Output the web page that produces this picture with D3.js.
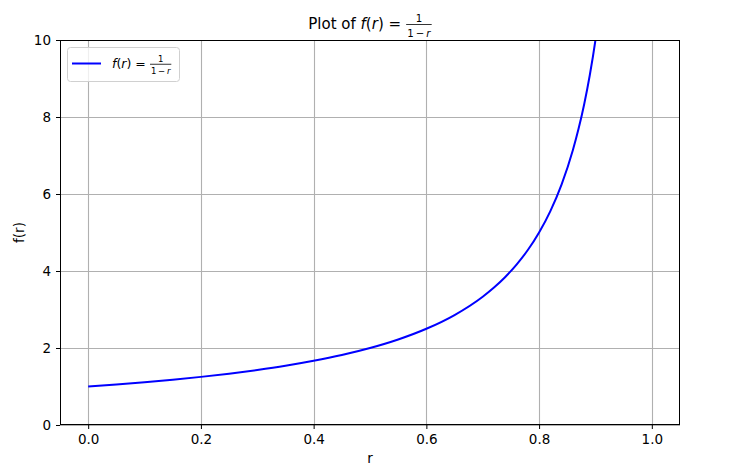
<!DOCTYPE html>
<html><head><meta charset="utf-8">
<script src="https://cdn.jsdelivr.net/npm/d3@7"></script>
<style>body{margin:0;background:#fff}svg{display:block;font-family:"DejaVu Sans",sans-serif}</style>
</head><body><svg id="c" width="746" height="469"></svg>
<script>
const rValues = [0, 0.05, 0.1, 0.15, 0.2, 0.25, 0.3, 0.35, 0.4, 0.45, 0.5, 0.55, 0.6, 0.65, 0.7, 0.72, 0.74, 0.76, 0.78, 0.8, 0.82, 0.84, 0.86, 0.87, 0.88, 0.89, 0.9, 0.91];
const fValues = [1.0, 1.053, 1.111, 1.176, 1.25, 1.333, 1.429, 1.538, 1.667, 1.818, 2.0, 2.222, 2.5, 2.857, 3.333, 3.571, 3.846, 4.167, 4.545, 5.0, 5.556, 6.25, 7.143, 7.692, 8.333, 9.091, 10.0, 11.11];
const xTicks = [0.0, 0.2, 0.4, 0.6, 0.8, 1.0];
const yTicks = [0, 2, 4, 6, 8, 10];

const svg = d3.select("#c");
const L = 60, R = 680, T = 40, B = 425;
const x = d3.scaleLinear().domain([-0.05, 1.05]).range([L, R]);
const y = d3.scaleLinear().domain([0, 10]).range([B, T]);

// grid
const g = svg.append("g");
g.selectAll(".gx").data(xTicks).enter().append("line")
  .attr("x1", d => Math.round(x(d)) + 0.5).attr("x2", d => Math.round(x(d)) + 0.5)
  .attr("y1", T).attr("y2", B).attr("stroke", "#b0b0b0").attr("stroke-width", 1.1);
g.selectAll(".gy").data(yTicks).enter().append("line")
  .attr("y1", d => Math.round(y(d)) + 0.5).attr("y2", d => Math.round(y(d)) + 0.5)
  .attr("x1", L).attr("x2", R).attr("stroke", "#b0b0b0").attr("stroke-width", 1.1);

// clip
svg.append("clipPath").attr("id", "clip").append("rect")
  .attr("x", L).attr("y", T).attr("width", R - L).attr("height", B - T);

const data = rValues.map((r, i) => [r, fValues[i]]);
svg.append("path").datum(data).attr("clip-path", "url(#clip)")
  .attr("fill", "none").attr("stroke", "#0000ff").attr("stroke-width", 2)
  .attr("d", d3.line().x(d => x(d[0])).y(d => y(d[1])).curve(d3.curveMonotoneX));

// axes
const xAxis = d3.axisBottom(x).tickValues(xTicks).tickFormat(d3.format(".1f")).tickSizeOuter(0).tickSize(4).tickPadding(5);
const yAxis = d3.axisLeft(y).tickValues(yTicks).tickFormat(d3.format("d")).tickSizeOuter(0).tickSize(4).tickPadding(5);
const xa = svg.append("g").attr("transform", `translate(0,${B})`).call(xAxis);
const ya = svg.append("g").attr("transform", `translate(${L},0)`).call(yAxis);
[xa, ya].forEach(a => {
  a.select(".domain").remove();
  a.selectAll("text").attr("font-size", 13.5).attr("font-family", "DejaVu Sans").attr("fill", "#000");
  a.selectAll("line").attr("stroke", "#000").attr("stroke-width", 1);
});
// frame
svg.append("rect").attr("x", L + 0.5).attr("y", T + 0.5).attr("width", R - L - 1).attr("height", B - T - 1)
  .attr("fill", "none").attr("stroke", "#000").attr("stroke-width", 1);

// labels
svg.append("text").attr("x", (L + R) / 2).attr("y", 463).attr("text-anchor", "middle")
  .attr("font-size", 13.5).text("r");
svg.append("text").attr("transform", `translate(24,${(T + B) / 2}) rotate(-90)`).attr("text-anchor", "middle")
  .attr("font-size", 13.5).text("f(r)");

// math expression helper
function mathExpr(parent, x0, yBase, size) {
  const gg = parent.append("g");
  const t = gg.append("text").attr("x", x0).attr("y", yBase).attr("font-size", size);
  t.append("tspan").attr("font-style", "italic").text("f");
  t.append("tspan").text("(");
  t.append("tspan").attr("font-style", "italic").text("r");
  t.append("tspan").text(")\u00a0=\u00a0");
  const w = t.node().getComputedTextLength();
  const fx = x0 + w + size * 0.02;
  const fs = size * 0.68;
  const d = gg.append("text").attr("x", 0).attr("y", yBase + size * 0.5).attr("text-anchor", "middle")
    .attr("font-size", fs);
  d.append("tspan").text("1\u2009\u2212\u2009");
  d.append("tspan").attr("font-style", "italic").text("r");
  const fw = d.node().getComputedTextLength() + size * 0.15;
  d.attr("x", fx + fw / 2);
  gg.append("text").attr("x", fx + fw / 2).attr("y", yBase - size * 0.46).attr("text-anchor", "middle")
    .attr("font-size", fs).text("1");
  gg.append("line").attr("x1", fx).attr("x2", fx + fw).attr("y1", yBase - size * 0.3).attr("y2", yBase - size * 0.3)
    .attr("stroke", "#000").attr("stroke-width", 0.8);
  return gg;
}

// title
const tg = svg.append("g");
const tt = tg.append("text").attr("x", 0).attr("y", 29).attr("font-size", 15).text("Plot of\u00a0");
const tw = tt.node().getComputedTextLength();
mathExpr(tg, tw, 29, 15);
const bb = tg.node().getBBox();
tg.attr("transform", `translate(${370 - bb.width / 2 - bb.x},0)`);

// legend
svg.append("rect").attr("x", 67.5).attr("y", 47.5).attr("width", 112).attr("height", 34).attr("rx", 3)
  .attr("fill", "#fff").attr("fill-opacity", 0.8).attr("stroke", "#d0d0d0").attr("stroke-width", 1);
svg.append("line").attr("x1", 72).attr("x2", 101).attr("y1", 63.5).attr("y2", 63.5)
  .attr("stroke", "#0000ff").attr("stroke-width", 2);
mathExpr(svg, 112, 68, 12.5);
</script></body></html>
